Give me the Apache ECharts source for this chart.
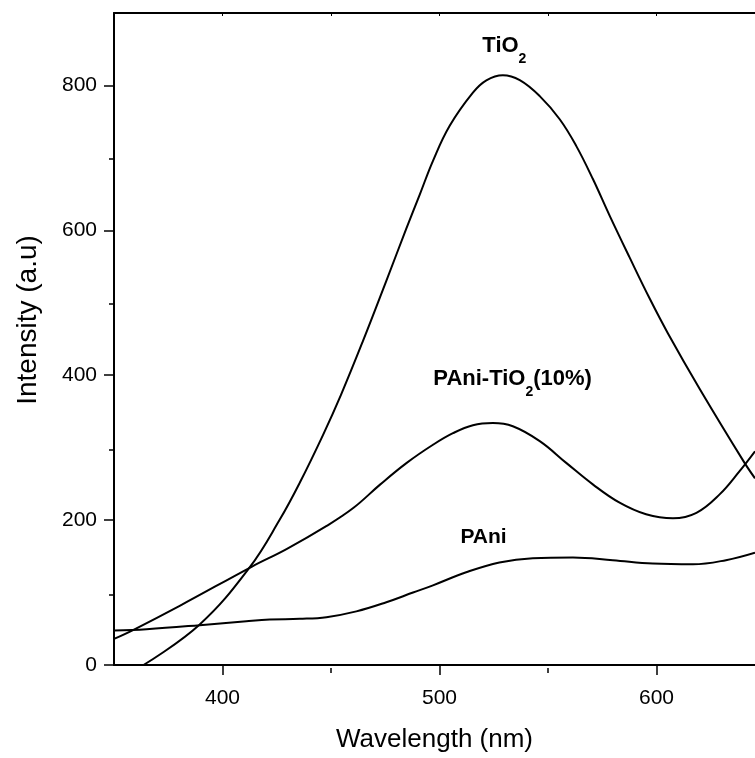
<!DOCTYPE html>
<html>
<head>
<meta charset="utf-8">
<script src="https://cdn.jsdelivr.net/npm/echarts@6/dist/echarts.min.js"></script>
<style>
  html, body { margin: 0; padding: 0; background: #fff; }
  #chart { width: 755px; height: 758px; }
</style>
</head>
<body>
<div id="chart"></div>
<script>
// Photoluminescence spectra: [wavelength (nm), intensity (a.u.)]
const tio2 = [
  [363.6, 0], [389.5, 56], [412.5, 134.7], [426.4, 200.7], [435.6, 251.5], [446.3, 317.3],
  [454.6, 372.9], [464.7, 447], [475.5, 530.3], [484.7, 602.3], [490.9, 649.3], [497, 696],
  [504.7, 744.3], [515.4, 790], [521.6, 807], [529.2, 814], [537, 807.3], [546.2, 785.3],
  [555.4, 753.3], [563, 716.6], [570.7, 670.8], [578.4, 620.3], [587.6, 562.6], [596.8, 506.2],
  [605.3, 457.7], [620, 380.7], [640.3, 280.4], [645.4, 257.7]
];
const paniTio2 = [
  [350, 36], [359, 48.6], [380.5, 82], [413.4, 135.6], [429.5, 160], [448, 192],
  [460.4, 217], [472.6, 249], [484.9, 279], [497, 304], [506.2, 320], [515.4, 331],
  [524.6, 334], [533.8, 329.5], [546.2, 309], [558.4, 279], [570.8, 249], [583, 224],
  [595.2, 208], [607.6, 202.5], [618.4, 210], [629.1, 235.5], [638.3, 267.6], [645.4, 295]
];
const pani = [
  [350, 47.6], [365, 49.5], [389.5, 55], [411, 60.5], [421.8, 62.8], [435.6, 63.7],
  [447.9, 66], [461.7, 74], [475.5, 86.6], [487.8, 100], [497, 110], [512.3, 128],
  [527.6, 141.6], [543, 147.5], [561.5, 148.5], [579.9, 144.7], [598.3, 140],
  [616.8, 139], [632, 144.7], [645.4, 155]
];

// Axis ticks
const xMajorTicks = [400, 500, 600];
const xMinorTicks = [450, 550];
const xTopTicks = [400, 450, 500, 550, 600];
const yMajorTicks = [0, 200, 400, 600, 800];
const yMinorTicks = [100, 300, 500, 700];

// Curve annotations
const seriesNames = ['TiO2', 'PAni-TiO2(10%)', 'PAni'];
const labelTexts = ['{b|TiO}{s|2}', '{b|PAni-TiO}{s|2}{b|(10%)}', '{p|PAni}'];
const labelAnchors = [[529.9, 854], [533.7, 394.5], [520.3, 177]];

const X_MIN = 350, X_MAX = 645.4, Y_MIN = 0, Y_MAX = 900;
const FONT = '"Liberation Sans", Arial, sans-serif';

const chart = echarts.init(document.getElementById('chart'), null, { renderer: 'canvas' });

const richStyles = {
  b: { fontFamily: FONT, fontWeight: 'bold', fontSize: 22, color: '#000', lineHeight: 40, verticalAlign: 'middle' },
  s: { fontFamily: FONT, fontWeight: 'bold', fontSize: 14, color: '#000', lineHeight: 17, verticalAlign: 'bottom' },
  p: { fontFamily: FONT, fontWeight: 'bold', fontSize: 21, color: '#000' }
};

const gridRect = { left: 114, right: 0, top: 13, bottom: 90 };

function curve(name, data, idx) {
  return {
    name: name,
    type: 'line',
    xAxisIndex: 0,
    yAxisIndex: 0,
    data: data,
    showSymbol: false,
    smooth: 0.4,
    lineStyle: { color: '#000', width: 2 },
    z: 3,
    markPoint: {
      silent: true,
      symbol: 'circle',
      symbolSize: 0,
      label: {
        show: true,
        position: 'inside',
        formatter: labelTexts[idx],
        rich: richStyles
      },
      data: [{ coord: labelAnchors[idx] }]
    }
  };
}

const option = {
  backgroundColor: '#fff',
  animation: false,
  grid: [
    Object.assign({}, gridRect),
    Object.assign({}, gridRect)
  ],
  xAxis: [
    {
      gridIndex: 0, type: 'value', position: 'bottom', min: X_MIN, max: X_MAX,
      axisLine: { show: true, lineStyle: { color: '#000', width: 2 } },
      axisTick: { show: true, customValues: xMajorTicks, length: 10, lineStyle: { color: '#000', width: 1.5 } },
      axisLabel: { show: true, customValues: xMajorTicks, color: '#000', fontSize: 21, fontFamily: FONT, margin: 23 },
      splitLine: { show: false },
      name: 'Wavelength (nm)', nameLocation: 'middle', nameGap: 62,
      nameTextStyle: { color: '#000', fontSize: 26, fontFamily: FONT }
    },
    {
      gridIndex: 0, type: 'value', position: 'top', min: X_MIN, max: X_MAX,
      axisLine: { show: true, lineStyle: { color: '#000', width: 2 } },
      axisTick: { show: true, inside: true, customValues: xTopTicks, length: 3, lineStyle: { color: '#000', width: 1 } },
      axisLabel: { show: false },
      splitLine: { show: false }
    },
    {
      gridIndex: 1, type: 'value', position: 'bottom', min: X_MIN, max: X_MAX,
      axisLine: { show: false },
      axisTick: { show: true, customValues: xMinorTicks, length: 5, lineStyle: { color: '#000', width: 1.5 } },
      axisLabel: { show: false },
      splitLine: { show: false }
    }
  ],
  yAxis: [
    {
      gridIndex: 0, type: 'value', position: 'left', min: Y_MIN, max: Y_MAX,
      axisLine: { show: true, lineStyle: { color: '#000', width: 2 } },
      axisTick: { show: true, customValues: yMajorTicks, length: 10, lineStyle: { color: '#000', width: 1.5 } },
      axisLabel: { show: true, customValues: yMajorTicks, color: '#000', fontSize: 21, fontFamily: FONT, margin: 17 },
      splitLine: { show: false },
      name: 'Intensity (a.u)', nameLocation: 'middle', nameGap: 72, nameRotate: 90,
      nameTextStyle: { color: '#000', fontSize: 28, fontFamily: FONT, padding: [0, 0, 0, 38] }
    },
    {
      gridIndex: 1, type: 'value', position: 'left', min: Y_MIN, max: Y_MAX,
      axisLine: { show: false },
      axisTick: { show: true, customValues: yMinorTicks, length: 5, lineStyle: { color: '#000', width: 1.5 } },
      axisLabel: { show: false },
      splitLine: { show: false }
    }
  ],
  series: [
    curve(seriesNames[0], tio2, 0),
    curve(seriesNames[1], paniTio2, 1),
    curve(seriesNames[2], pani, 2)
  ]
};

chart.setOption(option);
</script>
</body>
</html>
